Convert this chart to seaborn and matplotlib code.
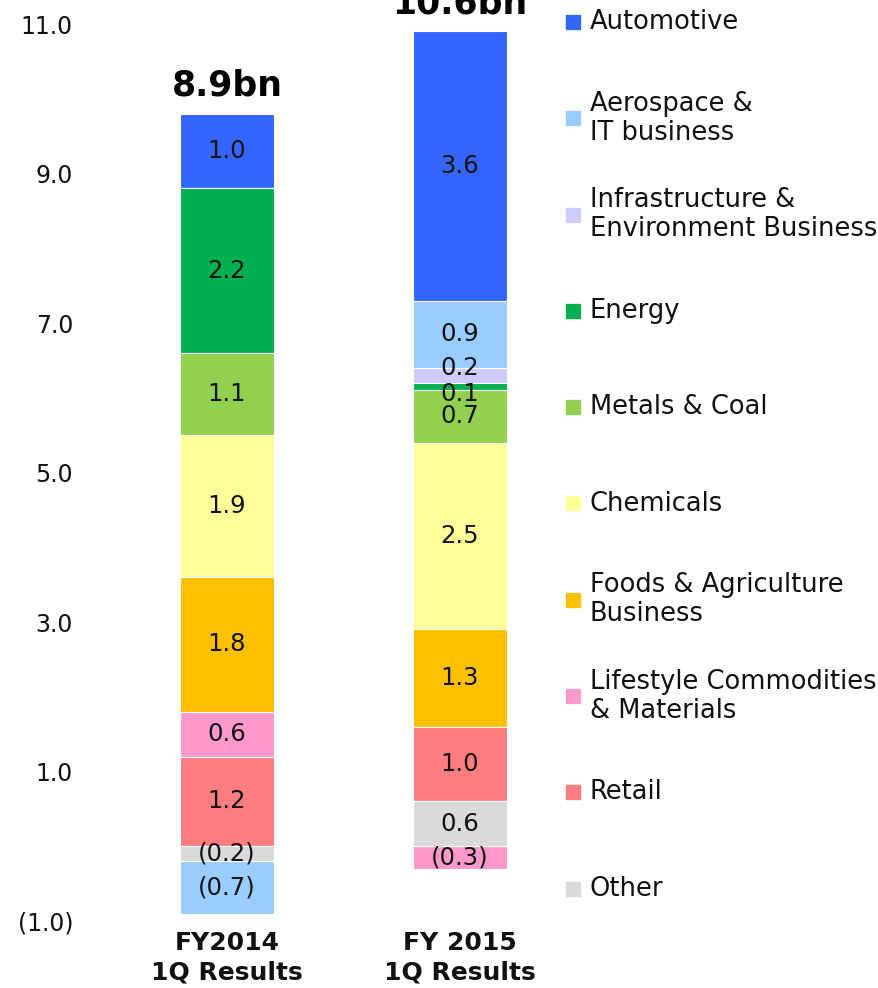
import matplotlib
matplotlib.use("Agg")
import matplotlib.pyplot as plt
from matplotlib.patches import Rectangle
import seaborn as sns
import pandas as pd

# ---------------- data ----------------
periods = ["FY2014\n1Q Results", "FY 2015\n1Q Results"]
segments = ["Automotive", "Aerospace &\nIT business", "Infrastructure &\nEnvironment Business",
            "Energy", "Metals & Coal", "Chemicals", "Foods & Agriculture\nBusiness",
            "Lifestyle Commodities\n& Materials", "Retail", "Other"]
fy2014 = [1.0, -0.7, 0.0, 2.2, 1.1, 1.9, 1.8, 0.6, 1.2, -0.2]
fy2015 = [3.6, 0.9, 0.2, 0.1, 0.7, 2.5, 1.3, -0.3, 1.0, 0.6]
totals = ["8.9bn", "10.6bn"]
colors = ["#3366FF", "#99CCFF", "#CCCCFF", "#00B050", "#92D050", "#FFFF99",
          "#FFC000", "#FF99CC", "#FF7C80", "#D9D9D9"]
yticks = [-1.0, 1.0, 3.0, 5.0, 7.0, 9.0, 11.0]
ytick_labels = ["(1.0)", "1.0", "3.0", "5.0", "7.0", "9.0", "11.0"]

# label nudges for crowded thin segments (style only)
label_nudge = {(1, 2): 0.10, (1, 3): -0.10}

# ---------------- build stacked table ----------------
rows = []
for pi, vals in enumerate([fy2014, fy2015]):
    pos, neg = 0.0, 0.0
    # stack from bottom segment (last in legend) to top
    for si in reversed(range(len(segments))):
        v = vals[si]
        if v >= 0:
            b = pos
            pos += v
        else:
            b = neg
            neg += v
        rows.append(dict(period=periods[pi], pidx=pi, seg=segments[si], sidx=si,
                         value=v, bottom=b))
df = pd.DataFrame(rows)

sns.set_theme(style="white")
plt.rcParams["font.family"] = ["DejaVu Sans"]

W, H = 879, 988
fig = plt.figure(figsize=(W / 100, H / 100), dpi=100)
ax_left, ax_right, ax_top, ax_bot = 80, 560, 24, 921
ax = fig.add_axes([ax_left / W, (H - ax_bot) / H, (ax_right - ax_left) / W, (ax_bot - ax_top) / H])

bar_w = 94 / 233
for si, seg in enumerate(segments):
    sub = df[df["sidx"] == si].sort_values("pidx")
    sns.barplot(data=sub, x="period", y="value", order=periods, errorbar=None,
                color=colors[si], saturation=1, width=bar_w, bottom=sub["bottom"].values,
                edgecolor="white", linewidth=0.8, ax=ax)

# value labels
for _, r in df.iterrows():
    if r["value"] == 0:
        continue
    v = r["value"]
    txt = f"{v:.1f}" if v > 0 else f"({abs(v):.1f})"
    yc = r["bottom"] + v / 2 + label_nudge.get((r["pidx"], r["sidx"]), 0.0)
    ax.text(r["pidx"], yc, txt, ha="center", va="center", fontsize=17.5, color="#111111")

# totals above bars
for pi, vals in enumerate([fy2014, fy2015]):
    top = sum(v for v in vals if v > 0)
    ax.text(pi, top + 0.24, totals[pi], ha="center", va="baseline", fontsize=25,
            fontweight="bold", color="black")

# axes styling
x0 = -(227 - ax_left) / 233
x1 = 1 + (ax_right - 460) / 233
ax.set_xlim(x0, x1)
ax.set_ylim(-1, 11)
ax.set_yticks(yticks)
ax.set_yticklabels(ytick_labels, fontsize=17, color="#111111")
ax.set_xticks([0, 1])
ax.set_xticklabels(periods, fontsize=18, fontweight="bold", color="#111111", linespacing=1.3)
ax.tick_params(axis="y", length=0, pad=5)
ax.tick_params(axis="x", length=0, pad=7)
ax.set_xlabel("")
ax.set_ylabel("")
for s in ax.spines.values():
    s.set_visible(False)

# legend (manual, evenly spaced)
for i, seg in enumerate(segments):
    yc = 22 + i * 96.3
    fig.patches.append(Rectangle((565 / W, (H - yc - 8) / H), 16 / W, 16 / H,
                                 transform=fig.transFigure, facecolor=colors[i],
                                 edgecolor="white", linewidth=0.5, figure=fig))
    fig.text(590 / W, (H - yc) / H, seg, ha="left", va="center", fontsize=18.5,
             color="#111111", linespacing=1.15)

fig.savefig("out.png", dpi=100)
